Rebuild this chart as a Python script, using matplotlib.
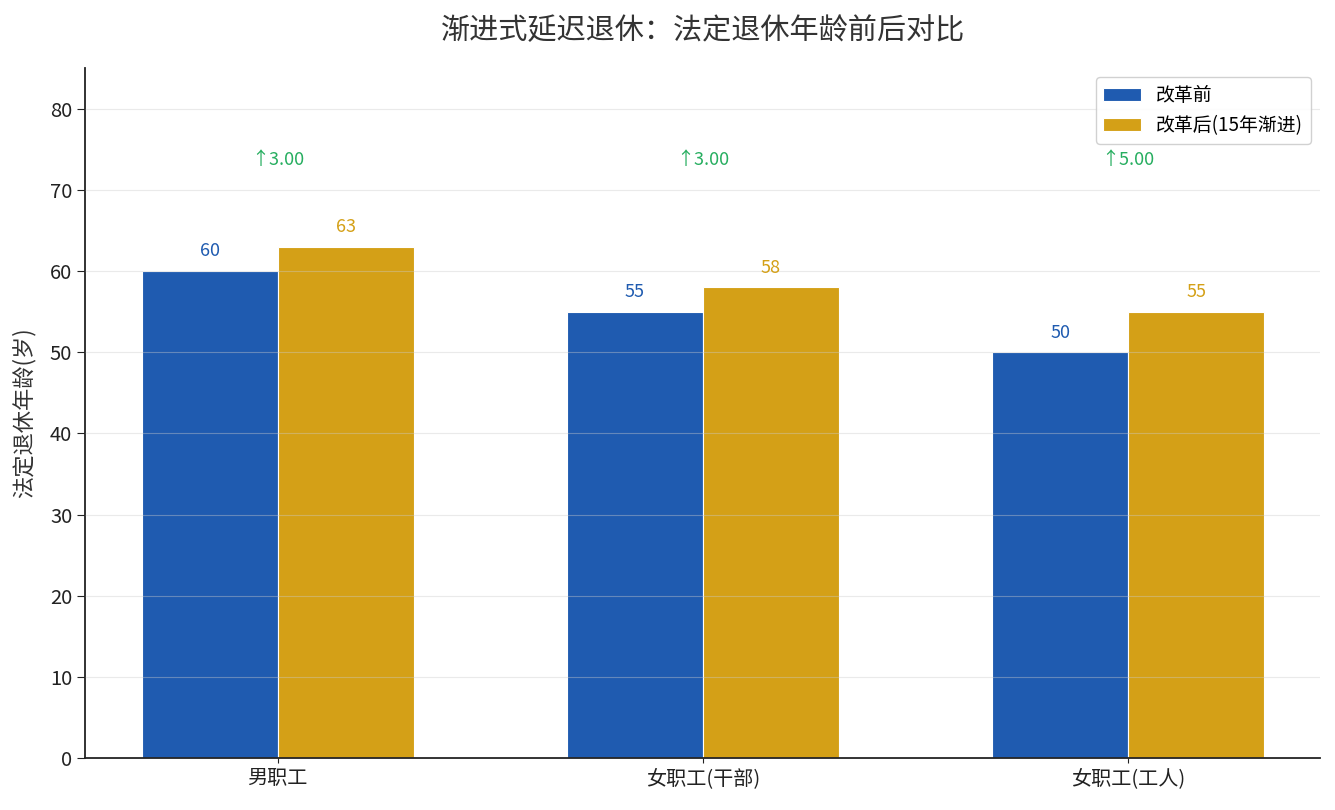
import numpy as np
import matplotlib
matplotlib.use('Agg')
import matplotlib.pyplot as plt

plt.rcParams['font.family'] = ['Noto Sans CJK SC', 'DejaVu Sans']
plt.rcParams['axes.unicode_minus'] = False

# data
categories = ['男职工', '女职工(干部)', '女职工(工人)']
before = [60, 55, 50]
after = [63, 58, 55]
series_names = ['改革前', '改革后(15年渐进)']

blue = '#1f5bb0'
gold = '#d4a017'
green = '#27ae60'
dark = '#333333'

fig, ax = plt.subplots(figsize=(13.35, 8.1), dpi=100)

x = np.arange(len(categories))
width = 0.32

bars1 = ax.bar(x - width / 2, before, width, color=blue, edgecolor='white', linewidth=0.8, label=series_names[0])
bars2 = ax.bar(x + width / 2, after, width, color=gold, edgecolor='white', linewidth=0.8, label=series_names[1])

# value labels
for b, v in zip(bars1, before):
    ax.text(b.get_x() + b.get_width() / 2, v + 1.3, str(v), ha='center', va='bottom', color=blue, fontsize=13)
for b, v in zip(bars2, after):
    ax.text(b.get_x() + b.get_width() / 2, v + 1.3, str(v), ha='center', va='bottom', color=gold, fontsize=13)

# increase annotations
for i in range(len(categories)):
    diff = after[i] - before[i]
    ax.text(x[i], 72.6, '↑%.2f' % diff, ha='center', va='bottom', color=green, fontsize=13)

ax.set_ylim(0, 85)
ax.set_xticks(x)
ax.set_xticklabels(categories, fontsize=14.5)
ax.tick_params(axis='both', labelsize=14.5, colors='#222222')
ax.tick_params(axis='y', length=6)
ax.set_ylabel('法定退休年龄(岁)', fontsize=16, color=dark, labelpad=10)
ax.set_title('渐进式延迟退休：法定退休年龄前后对比', fontsize=21, pad=21, color=dark)

ax.yaxis.grid(True, color='#cccccc', alpha=0.4, linewidth=0.8)
ax.set_axisbelow(False)
ax.spines['top'].set_visible(False)
ax.spines['right'].set_visible(False)
ax.spines['left'].set_linewidth(1.3)
ax.spines['bottom'].set_linewidth(1.3)
ax.spines['left'].set_color('#222222')
ax.spines['bottom'].set_color('#222222')

ax.legend(loc='upper right', fontsize=13.6, framealpha=0.9)

plt.subplots_adjust(left=0.064, right=0.989, top=0.916, bottom=0.064)
plt.savefig('out.png', dpi=100)
